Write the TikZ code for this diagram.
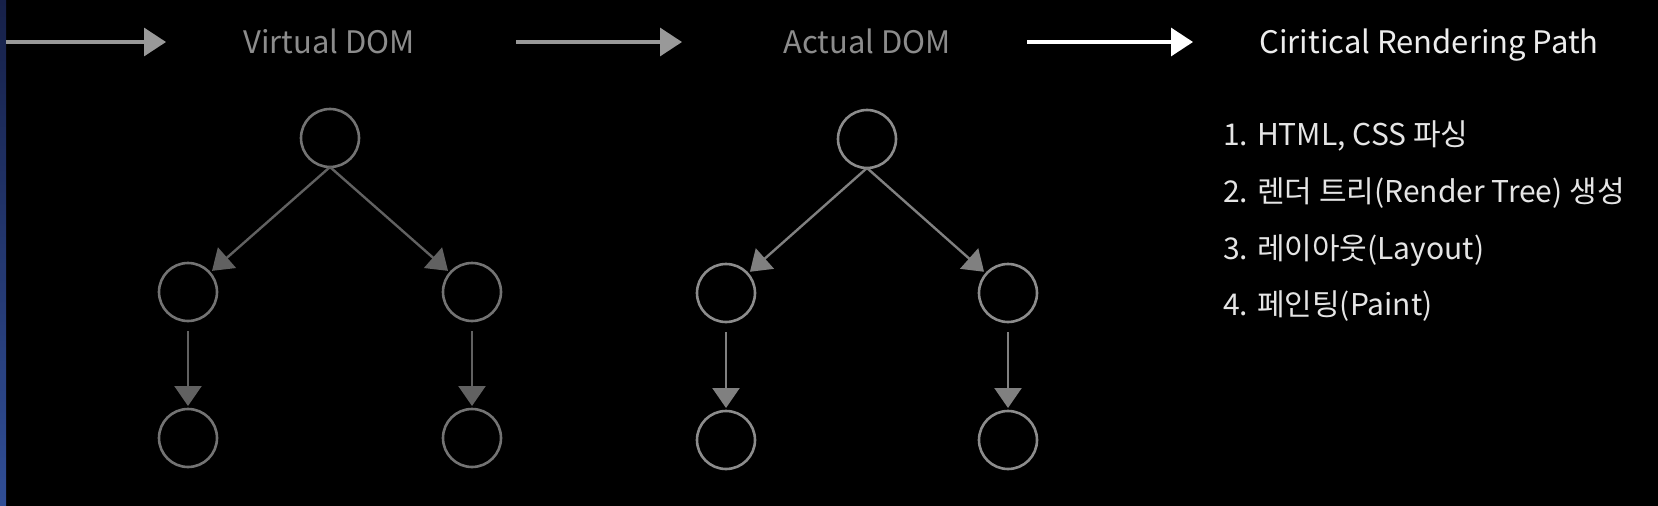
\documentclass[tikz,border=0pt]{standalone}
\usepackage{fontspec}
\setmainfont{Noto Sans CJK KR}
\usetikzlibrary{arrows.meta}
\definecolor{striptop}{RGB}{22,32,72}
\definecolor{stripbot}{RGB}{48,78,150}
\begin{document}
\begin{tikzpicture}[x=1pt,y=-1pt,
  circ/.style={circle,draw=#1,line width=2.6pt,minimum size=58pt,inner sep=0pt,outer sep=0pt},
  tedge/.style={draw=#1,line width=2.4pt,-{Triangle[width=27pt,length=20pt]},shorten >=3pt},
  topar/.style={draw=#1,line width=3.2pt,-{Triangle[width=28pt,length=22pt]}},
  lbl/.style={anchor=base,text=#1,font=\fontsize{31}{36}\selectfont,inner sep=0pt},
  item/.style={anchor=base west,text=white!90!black,font=\fontsize{30}{36}\selectfont,inner sep=0pt}]
\fill[black] (0,0) rectangle (1658,506);
\useasboundingbox (0,0) rectangle (1658,506);
\shade[top color=striptop, bottom color=stripbot] (0,0) rectangle (6,506);
% top row
\coordinate (a1s) at (6,42);
\coordinate (a1e) at (166,42);
\coordinate (a2s) at (516,42);
\coordinate (a2e) at (682,42);
\coordinate (a3s) at (1027,42);
\coordinate (a3e) at (1193,42);
\draw[topar=black!40!white] (a1s) -- (a1e);
\draw[topar=black!40!white] (a2s) -- (a2e);
\draw[topar=white] (a3s) -- (a3e);
\node[lbl=black!45!white] (vd) at (329,53) {Virtual DOM};
\node[lbl=black!45!white] (ad) at (867,53) {Actual DOM};
\node[lbl=white!93!black] (crp) at (1429,53) {Ciritical Rendering Path};
% tree 1
\node[circ=black!55!white] (r1) at (330,138) {};
\node[circ=black!55!white] (l1) at (188,292) {};
\node[circ=black!55!white] (q1) at (472,292) {};
\node[circ=black!55!white] (ll1) at (188,438) {};
\node[circ=black!55!white] (qq1) at (472,438) {};
\draw[tedge=black!62!white] (r1.south) -- (l1);
\draw[tedge=black!62!white] (r1.south) -- (q1);
\draw[tedge=black!62!white,shorten <=10pt] (l1) -- (ll1);
\draw[tedge=black!62!white,shorten <=10pt] (q1) -- (qq1);
% tree 2
\node[circ=black!45!white] (r2) at (867,139) {};
\node[circ=black!45!white] (l2) at (726,293) {};
\node[circ=black!45!white] (q2) at (1008,293) {};
\node[circ=black!45!white] (ll2) at (726,440) {};
\node[circ=black!45!white] (qq2) at (1008,440) {};
\draw[tedge=black!50!white] (r2.south) -- (l2);
\draw[tedge=black!50!white] (r2.south) -- (q2);
\draw[tedge=black!50!white,shorten <=10pt] (l2) -- (ll2);
\draw[tedge=black!50!white,shorten <=10pt] (q2) -- (qq2);
% list
\node[item] (i1) at (1223,145) {1. HTML, CSS 파싱};
\node[item] (i2) at (1223,202) {2. 렌더 트리(Render Tree) 생성};
\node[item] (i3) at (1223,259) {3. 레이아웃(Layout)};
\node[item] (i4) at (1223,315) {4. 페인팅(Paint)};
\end{tikzpicture}
\end{document}
